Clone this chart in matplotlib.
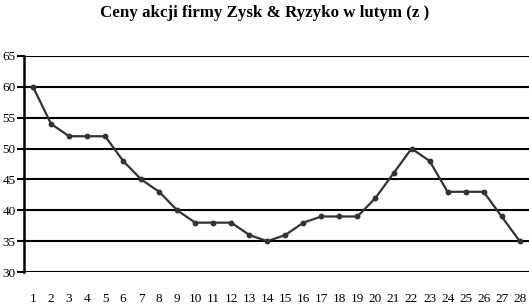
import numpy as np
import matplotlib.pyplot as plt

# dane: dzien lutego -> cena akcji
dni = list(range(1, 29))
ceny = [60, 54, 52, 52, 52, 48, 45, 43, 40, 38, 38, 38, 36, 35,
        36, 38, 39, 39, 39, 42, 46, 50, 48, 43, 43, 43, 39, 35]
y_ticks = [30, 35, 40, 45, 50, 55, 60, 65]

plt.rcParams['font.family'] = ['Liberation Serif', 'DejaVu Serif']

fig = plt.figure(figsize=(5.29, 3.06), dpi=100)
ax = fig.add_axes([0.0454, 0.111, 0.954, 0.706])

ax.plot(dni, ceny, color="#333333", lw=1.6, marker="o", ms=3.2)

ax.set_xlim(0.5, 28.5)
ax.set_ylim(30, 65)
ax.set_yticks(y_ticks)
ax.set_xticks(dni)
ax.yaxis.grid(True, color="black", lw=1.5)
ax.set_axisbelow(True)

for s in ["top", "right", "bottom"]:
    ax.spines[s].set_visible(False)
ax.spines["left"].set_linewidth(1.8)

ax.tick_params(axis="y", length=5, width=1.5, labelsize=9.5, pad=1)
ax.tick_params(axis="x", length=0, labelsize=9.5, pad=15)

fig.text(0.5, 1 - 13 / 306, "Ceny akcji firmy Zysk & Ryzyko w lutym (z )",
         ha="center", va="center", fontsize=12.2, fontweight="bold")

fig.savefig("out.png", dpi=100)
